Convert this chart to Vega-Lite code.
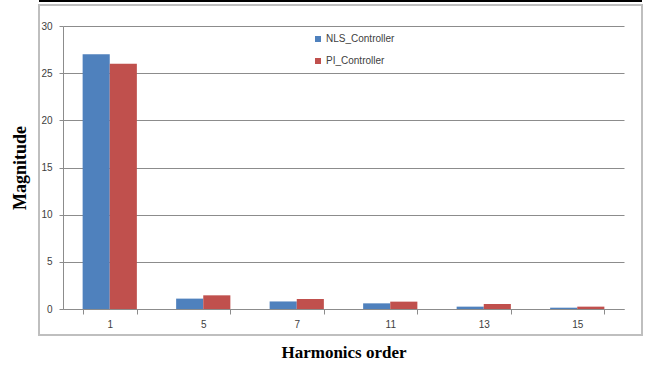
{
  "$schema": "https://vega.github.io/schema/vega-lite/v6.json",
  "width": 603,
  "height": 330,
  "autosize": {"type": "none"},
  "padding": {"left": 39, "top": 5, "right": 14, "bottom": 30},
  "background": "white",
  "config": {"view": {"stroke": "#bfbfbf", "strokeWidth": 2}},
  "resolve": {"axis": {"y": "independent"}},
  "layer": [
    {
      "data": {
        "values": [
          {"order": "1", "series": "NLS_Controller", "value": 27},
          {"order": "1", "series": "PI_Controller", "value": 26},
          {"order": "5", "series": "NLS_Controller", "value": 1.1},
          {"order": "5", "series": "PI_Controller", "value": 1.45},
          {"order": "7", "series": "NLS_Controller", "value": 0.8},
          {"order": "7", "series": "PI_Controller", "value": 1.06},
          {"order": "11", "series": "NLS_Controller", "value": 0.6},
          {"order": "11", "series": "PI_Controller", "value": 0.78},
          {"order": "13", "series": "NLS_Controller", "value": 0.25},
          {"order": "13", "series": "PI_Controller", "value": 0.53},
          {"order": "15", "series": "NLS_Controller", "value": 0.14},
          {"order": "15", "series": "PI_Controller", "value": 0.25}
        ]
      },
      "mark": {"type": "bar"},
      "encoding": {
        "x": {
          "field": "order",
          "type": "nominal",
          "sort": ["1", "5", "7", "11", "13", "15"],
          "scale": {"range": [24, 585], "paddingInner": 0.42, "paddingOuter": 0.21},
          "axis": {
            "title": "Harmonics order",
            "labelAngle": 0,
            "offset": -26,
            "tickBand": "extent",
            "tickSize": 5,
            "domainColor": "#8c8c8c",
            "tickColor": "#8c8c8c",
            "labelPadding": 5,
            "labelFont": "Liberation Sans",
            "labelFontSize": 10,
            "labelColor": "#404040",
            "titleFont": "Liberation Serif",
            "titleFontSize": 17,
            "titleFontWeight": "bold",
            "titleColor": "black",
            "titlePadding": 15,
            "grid": false
          }
        },
        "xOffset": {"field": "series", "scale": {"paddingInner": 0, "paddingOuter": 0}},
        "y": {
          "field": "value",
          "type": "quantitative",
          "scale": {"domain": [0, 30], "range": [304, 21], "nice": false},
          "axis": {
            "title": "Magnitude",
            "values": [0, 5, 10, 15, 20, 25, 30],
            "offset": -24,
            "grid": true,
            "gridColor": "#8c8c8c",
            "gridWidth": 1,
            "domainColor": "#8c8c8c",
            "tickColor": "#8c8c8c",
            "tickSize": 4,
            "labelPadding": 7,
            "labelFont": "Liberation Sans",
            "labelFontSize": 10,
            "labelColor": "#404040",
            "titleFont": "Liberation Serif",
            "titleFontSize": 18,
            "titleFontWeight": "bold",
            "titleColor": "black",
            "titlePadding": 11
          }
        },
        "color": {
          "field": "series",
          "type": "nominal",
          "scale": {"domain": ["NLS_Controller", "PI_Controller"], "range": ["#4F81BD", "#C0504D"]},
          "legend": {
            "title": null,
            "orient": "none",
            "legendX": 274,
            "legendY": 29,
            "symbolType": "square",
            "symbolSize": 36,
            "symbolStrokeWidth": 0,
            "labelFont": "Liberation Sans",
            "labelFontSize": 10,
            "labelColor": "#404040",
            "rowPadding": 12,
            "labelOffset": 3,
            "padding": 0
          }
        }
      }
    },
    {
      "data": {"values": [{}]},
      "mark": {"type": "rule", "color": "black", "strokeWidth": 2},
      "encoding": {"y": {"datum": 32.65, "axis": null}}
    }
  ]
}
